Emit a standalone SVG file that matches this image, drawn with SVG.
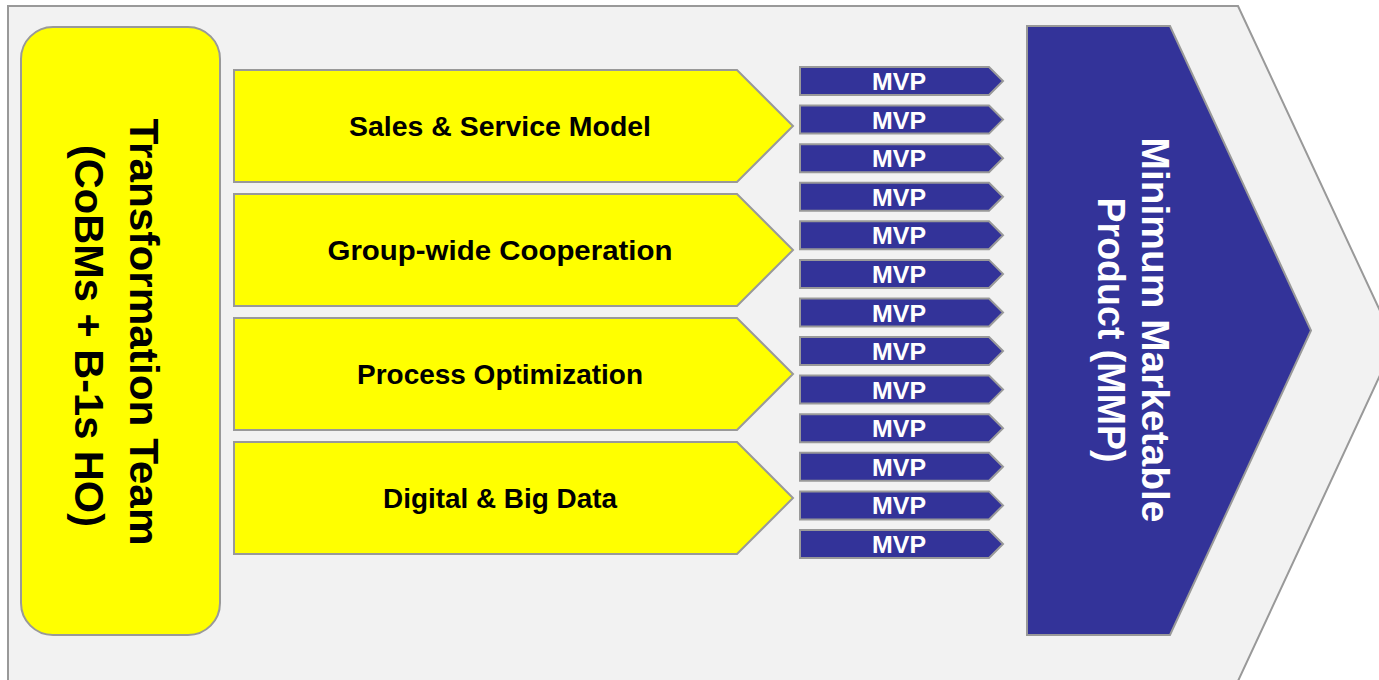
<svg xmlns="http://www.w3.org/2000/svg" width="1379" height="680" viewBox="0 0 1379 680">
<style>
.bg{fill:#F2F2F2;stroke:#999999;stroke-width:2}
.yl{fill:#FFFF00;stroke:#999999;stroke-width:2}
.mvp{fill:#333399;stroke:#999999;stroke-width:2}
.mmp{fill:#333399;stroke:#999999;stroke-width:2}
.t{font-family:"Liberation Sans",Arial,sans-serif;font-weight:bold;text-anchor:middle}
.lbl{font-size:28px;fill:#000}
.mv{font-size:23px;fill:#FFFFFF}
.big{font-size:40px;fill:#000}
.bigw{font-size:38px;fill:#FFFFFF}
</style>
<defs>
<polygon id="mvpshape" class="mvp" points="800,0 989,0 1003,14 989,28 800,28"/>
</defs>
<rect width="1379" height="680" fill="#FFFFFF"/>
<g id="background">
<polygon class="bg" points="8,6 1238,6 1395,343 1238,681 8,681"/>
</g>
<g id="connectors"></g>
<g id="transformation-team">
<rect class="yl" x="21" y="27" width="199" height="608" rx="32" ry="32"/>
<g transform="translate(130,332) rotate(90)">
<text class="t big" x="0" y="0" textLength="427" lengthAdjust="spacingAndGlyphs">Transformation Team</text>
<text class="t big" x="4" y="55" textLength="382" lengthAdjust="spacingAndGlyphs">(CoBMs + B-1s HO)</text>
</g>
</g>
<g id="sales-service-model">
<polygon class="yl" points="234,70 737,70 793,126 737,182 234,182"/>
<text class="t lbl" x="500" y="136" textLength="302" lengthAdjust="spacingAndGlyphs">Sales &amp; Service Model</text>
</g>
<g id="group-wide-cooperation">
<polygon class="yl" points="234,194 737,194 793,250 737,306 234,306"/>
<text class="t lbl" x="500" y="260" textLength="345" lengthAdjust="spacingAndGlyphs">Group-wide Cooperation</text>
</g>
<g id="process-optimization">
<polygon class="yl" points="234,318 737,318 793,374 737,430 234,430"/>
<text class="t lbl" x="500" y="384" textLength="286" lengthAdjust="spacingAndGlyphs">Process Optimization</text>
</g>
<g id="digital-big-data">
<polygon class="yl" points="234,442 737,442 793,498 737,554 234,554"/>
<text class="t lbl" x="500" y="508" textLength="234" lengthAdjust="spacingAndGlyphs">Digital &amp; Big Data</text>
</g>
<g id="mvp-1" transform="translate(0,67)"><use href="#mvpshape"/><text class="t mv" x="899" y="23" textLength="54" lengthAdjust="spacingAndGlyphs">MVP</text></g>
<g id="mvp-2" transform="translate(0,105.6)"><use href="#mvpshape"/><text class="t mv" x="899" y="23" textLength="54" lengthAdjust="spacingAndGlyphs">MVP</text></g>
<g id="mvp-3" transform="translate(0,144.2)"><use href="#mvpshape"/><text class="t mv" x="899" y="23" textLength="54" lengthAdjust="spacingAndGlyphs">MVP</text></g>
<g id="mvp-4" transform="translate(0,182.7)"><use href="#mvpshape"/><text class="t mv" x="899" y="23" textLength="54" lengthAdjust="spacingAndGlyphs">MVP</text></g>
<g id="mvp-5" transform="translate(0,221.3)"><use href="#mvpshape"/><text class="t mv" x="899" y="23" textLength="54" lengthAdjust="spacingAndGlyphs">MVP</text></g>
<g id="mvp-6" transform="translate(0,259.9)"><use href="#mvpshape"/><text class="t mv" x="899" y="23" textLength="54" lengthAdjust="spacingAndGlyphs">MVP</text></g>
<g id="mvp-7" transform="translate(0,298.5)"><use href="#mvpshape"/><text class="t mv" x="899" y="23" textLength="54" lengthAdjust="spacingAndGlyphs">MVP</text></g>
<g id="mvp-8" transform="translate(0,337.1)"><use href="#mvpshape"/><text class="t mv" x="899" y="23" textLength="54" lengthAdjust="spacingAndGlyphs">MVP</text></g>
<g id="mvp-9" transform="translate(0,375.6)"><use href="#mvpshape"/><text class="t mv" x="899" y="23" textLength="54" lengthAdjust="spacingAndGlyphs">MVP</text></g>
<g id="mvp-10" transform="translate(0,414.2)"><use href="#mvpshape"/><text class="t mv" x="899" y="23" textLength="54" lengthAdjust="spacingAndGlyphs">MVP</text></g>
<g id="mvp-11" transform="translate(0,452.8)"><use href="#mvpshape"/><text class="t mv" x="899" y="23" textLength="54" lengthAdjust="spacingAndGlyphs">MVP</text></g>
<g id="mvp-12" transform="translate(0,491.4)"><use href="#mvpshape"/><text class="t mv" x="899" y="23" textLength="54" lengthAdjust="spacingAndGlyphs">MVP</text></g>
<g id="mvp-13" transform="translate(0,530)"><use href="#mvpshape"/><text class="t mv" x="899" y="23" textLength="54" lengthAdjust="spacingAndGlyphs">MVP</text></g>
<g id="mmp">
<polygon class="mmp" points="1027,26 1170,26 1311,330.5 1170,635 1027,635"/>
<g transform="translate(1142,330) rotate(90)">
<text class="t bigw" x="0" y="0" textLength="385" lengthAdjust="spacingAndGlyphs">Minimum Marketable</text>
<text class="t bigw" x="0" y="44" textLength="265" lengthAdjust="spacingAndGlyphs">Product (MMP)</text>
</g>
</g>
</svg>
